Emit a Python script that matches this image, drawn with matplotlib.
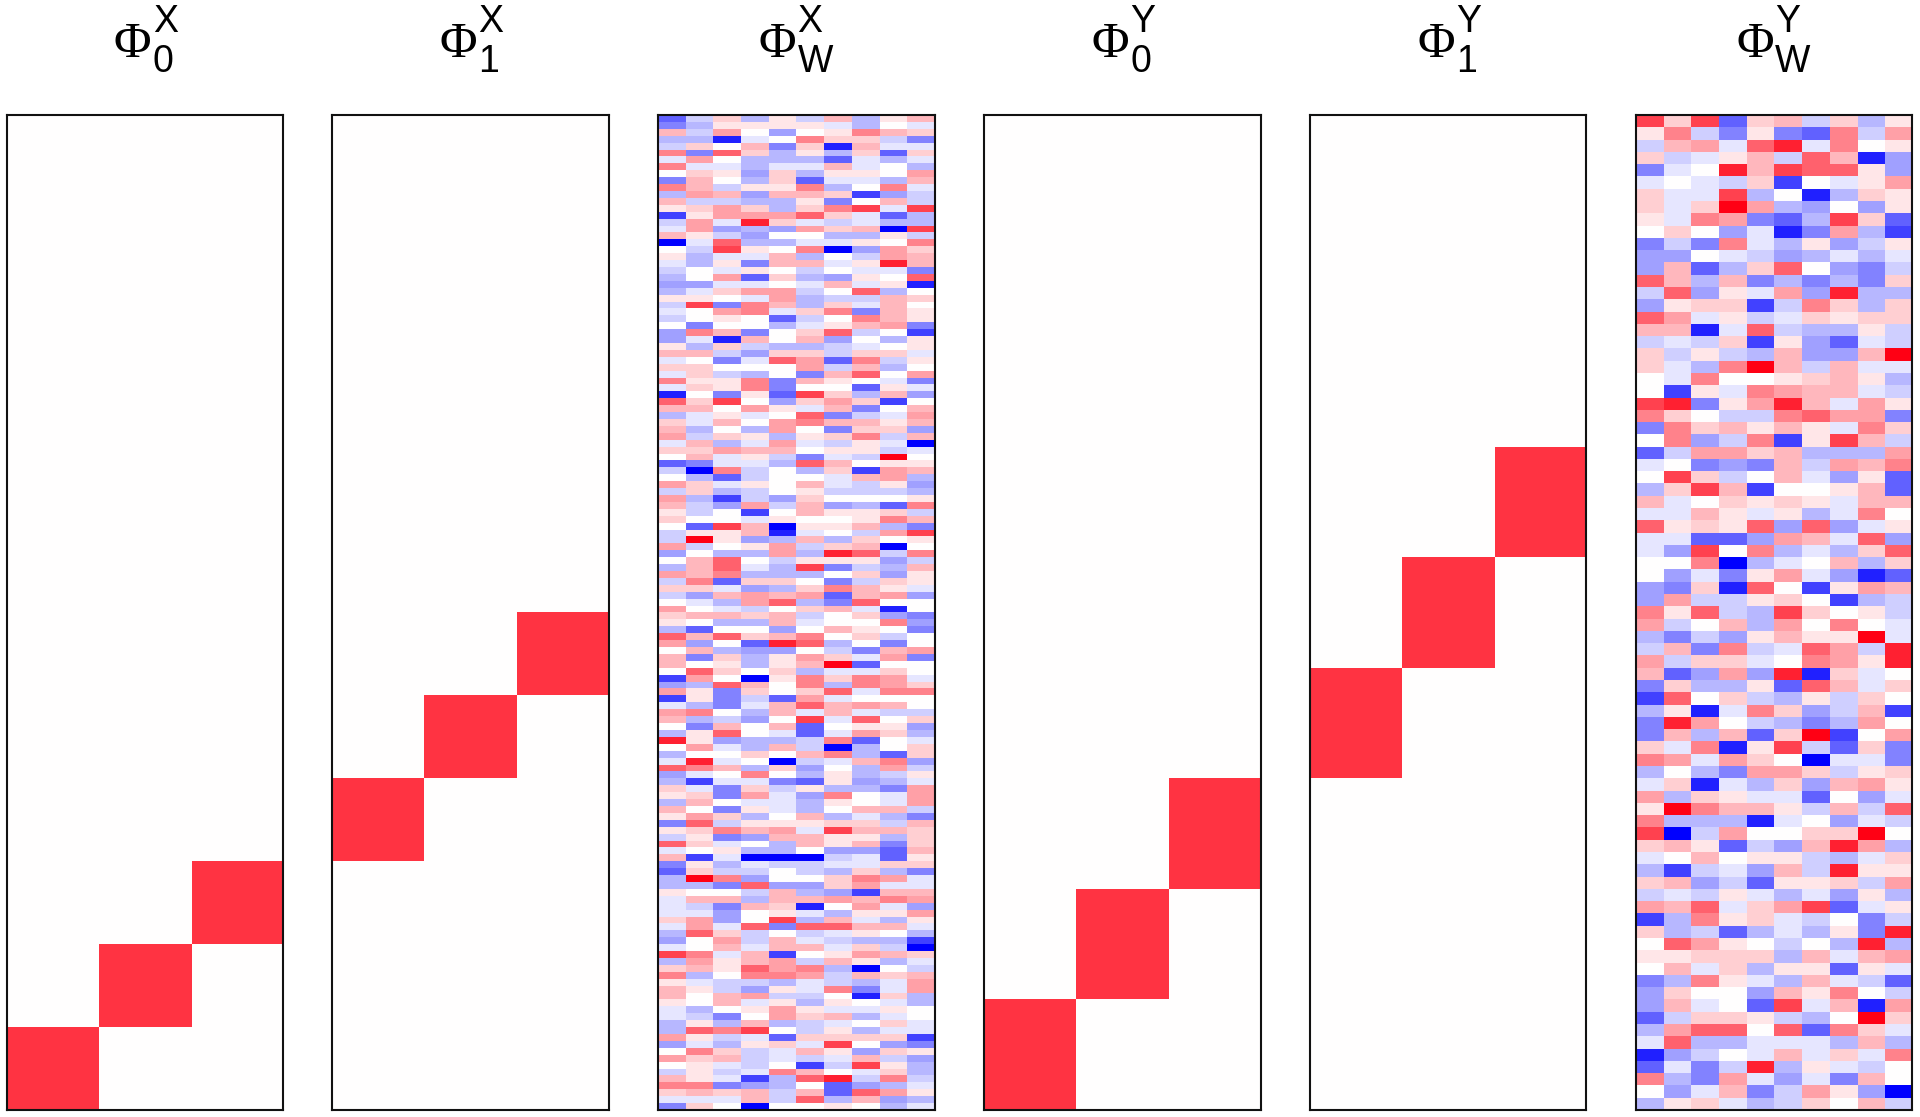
import matplotlib
matplotlib.use("Agg")
import matplotlib.pyplot as plt
from matplotlib.colors import LinearSegmentedColormap
import numpy as np

# weights, -9 = full blue, 9 = full red
phi_w_x = [
    [-6,-2,2,-3,1,-2,3,-3,1,3],
    [-5,-3,1,1,1,1,-1,-3,0,-1],
    [3,-2,4,0,-4,0,1,5,3,2],
    [-3,-3,-8,-1,0,5,2,2,-2,-5],
    [-2,2,0,3,-5,2,-8,3,-1,-1],
    [5,-5,6,2,-3,1,-3,2,-6,2],
    [-1,4,0,-3,-3,-3,-6,-1,-3,-1],
    [5,-1,-1,-3,-1,-1,3,-1,0,-3],
    [0,2,1,-4,2,-3,1,1,0,4],
    [-5,3,0,-3,2,-6,-1,-1,-3,3],
    [5,3,-2,1,1,5,-3,0,5,-1],
    [-3,4,3,-4,3,3,2,-7,-4,-2],
    [3,-2,-2,-3,-3,1,-5,0,3,-2],
    [1,2,4,2,-3,2,5,7,-1,7],
    [-7,1,4,4,4,6,2,-1,-6,-3],
    [-2,4,-1,8,2,-1,-2,-1,-3,-3],
    [-1,4,-4,-3,-4,4,2,3,-9,7],
    [3,1,-2,-4,0,0,-3,-3,1,-2],
    [-9,-1,6,-3,-3,-1,-1,1,0,5],
    [0,-2,7,1,0,5,-9,-4,4,2],
    [1,-3,-1,-1,3,-3,0,-2,4,3],
    [-1,-3,1,-5,3,3,-1,1,8,3],
    [-2,0,-1,1,0,-2,0,-1,-1,-5],
    [-3,0,4,-6,2,-3,-4,1,0,6],
    [-4,-4,-1,-1,0,-1,3,-1,1,-8],
    [-3,-1,2,4,4,-2,0,6,-3,0],
    [1,1,0,-1,4,-3,-2,-2,3,2],
    [-2,7,-5,5,3,-3,2,-1,3,0],
    [-1,0,4,5,-1,2,5,-5,3,1],
    [-2,0,1,0,-6,-2,0,5,3,1],
    [0,-5,0,0,-3,-1,1,3,4,-5],
    [-4,5,3,-5,0,2,6,-2,0,-7],
    [-4,-1,-8,3,0,3,-4,0,-3,1],
    [1,-3,2,-2,-3,-3,-2,-1,0,1],
    [3,3,-2,-4,2,2,-2,2,2,-1],
    [-1,0,-5,-1,6,4,-6,5,-2,1],
    [2,2,0,0,0,4,-2,3,-3,0],
    [-1,2,-2,-3,0,-5,3,6,0,4],
    [5,1,1,5,-5,3,1,0,-1,-5],
    [-1,2,1,5,-5,0,0,-6,1,-1],
    [-8,0,-5,1,-6,7,2,-3,3,-4],
    [6,2,7,0,-4,2,4,2,-7,0],
    [3,3,0,4,1,-1,3,-5,0,3],
    [-3,-1,1,-1,0,6,-5,-2,-1,4],
    [2,-1,3,0,4,5,3,3,1,3],
    [3,-3,0,-3,4,0,-5,2,2,-4],
    [4,-2,2,1,-3,1,2,5,-2,3],
    [-1,3,-3,-1,4,-1,-2,1,-1,-9],
    [2,2,4,3,3,0,1,1,-2,-1],
    [0,3,-1,1,-2,-5,-1,-2,9,0],
    [-6,-5,-1,-1,-3,6,3,0,1,1],
    [-2,-9,5,-2,0,-3,2,-7,4,3],
    [0,-3,-6,-2,0,0,-1,3,4,-3],
    [4,2,-1,1,0,3,-1,-2,1,-4],
    [-2,2,-3,-2,0,1,-2,-2,-2,-3],
    [4,-3,-7,-2,-4,2,0,0,0,1],
    [3,-2,-4,4,-2,3,-4,-3,-6,5],
    [1,-2,0,-7,0,3,1,1,2,-2],
    [2,0,0,-1,1,0,0,1,5,3],
    [0,-6,7,3,-9,1,1,3,-3,-5],
    [-2,1,1,3,-8,-1,0,-2,4,7],
    [-2,9,1,-4,-3,3,-3,2,0,1],
    [4,-2,0,1,4,-2,2,3,-9,0],
    [-4,0,-3,-3,4,-3,8,6,-2,5],
    [0,3,6,0,-2,1,1,1,-4,-2],
    [-3,3,6,-1,-3,7,-5,-2,-3,3],
    [4,3,5,-3,-3,-3,0,2,-4,1],
    [-2,5,-6,2,2,0,-5,-2,2,1],
    [2,2,-1,-4,-3,2,5,3,1,-1],
    [-2,-4,3,4,3,4,-6,3,4,-4],
    [0,-1,-3,4,6,-3,-5,6,0,0],
    [4,0,-1,-2,0,2,3,-1,-8,0],
    [2,3,3,2,3,-2,0,2,-4,-5],
    [1,0,-3,-3,3,-1,0,0,5,-4],
    [-3,-6,0,0,-4,0,3,1,0,-5],
    [6,3,6,2,3,5,0,2,-2,0],
    [4,-4,0,-6,8,6,-3,0,-5,0],
    [0,3,-3,-4,-4,0,-2,-5,3,4],
    [3,-5,2,-3,1,4,2,-1,4,-5],
    [3,0,1,-3,1,3,9,-6,0,0],
    [0,6,2,0,2,-3,-1,-1,2,0],
    [-7,4,0,-9,1,5,2,5,4,-1],
    [-4,-3,6,3,0,5,-3,5,4,2],
    [4,1,-5,2,0,2,6,-1,5,5],
    [-7,1,-5,-2,-6,4,-1,0,0,0],
    [-1,-3,-5,-1,3,6,3,4,3,0],
    [4,5,0,-3,3,-1,3,-1,-2,-2],
    [3,-3,-2,-4,0,7,-1,6,0,2],
    [0,-5,3,0,3,-6,0,1,1,-4],
    [-3,1,6,0,-1,-6,-1,4,2,-3],
    [8,1,-4,-3,-3,-2,5,-6,0,-1],
    [0,4,-1,-3,3,-2,-9,-3,0,2],
    [-3,0,0,2,0,3,5,-3,-6,2],
    [-1,8,-1,0,-9,-2,-1,3,5,-4],
    [6,5,3,-3,2,-4,0,-3,4,-2],
    [-4,-1,0,5,0,-3,1,-3,-2,1],
    [-3,-7,-1,-1,-5,-6,1,-4,-3,-1],
    [2,-1,-5,2,-2,1,-3,-3,-5,4],
    [1,2,-5,4,-1,-4,5,0,-1,4],
    [-3,3,0,-1,-1,-3,1,0,-1,4],
    [3,0,-5,1,-1,-3,0,3,3,-2],
    [1,4,2,-3,0,3,-3,-1,-3,-5],
    [-5,6,-2,1,1,1,2,2,-2,3],
    [1,2,5,3,4,-1,7,3,3,2],
    [-2,1,-5,-4,3,3,1,1,-3,2],
    [6,2,-1,0,-3,3,1,3,-5,2],
    [-1,0,1,-3,-3,0,-4,-4,-6,3],
    [3,-7,-1,-9,-9,-9,-2,-1,-6,1],
    [-5,1,-3,-1,-2,-2,-1,-1,2,2],
    [-6,2,-2,-2,0,-2,-3,2,-3,-5],
    [-3,9,5,-4,0,0,2,5,4,-1],
    [-3,-3,-5,6,-4,-4,2,4,-1,-1],
    [1,0,0,-2,3,-3,-4,-7,3,3],
    [-1,3,3,-3,3,3,4,3,5,4],
    [-1,-2,-5,3,2,-8,0,4,-1,-4],
    [-1,-1,-4,0,1,-1,-3,1,1,4],
    [2,4,-4,0,7,-3,3,-1,-3,1],
    [-1,4,-1,6,-5,6,6,3,3,-1],
    [-3,6,2,-2,0,-2,-1,1,0,-3],
    [-4,0,4,-2,3,-1,-2,-3,-3,-7],
    [-1,0,3,-1,3,3,-1,2,-2,-9],
    [7,5,-1,3,-7,0,1,4,3,2],
    [-3,4,1,3,4,-2,3,1,-3,-1],
    [2,3,1,6,4,5,-3,-9,0,-2],
    [5,-3,0,5,5,4,-2,3,2,3],
    [1,-1,-2,-2,-3,-1,-2,-3,-1,4],
    [3,1,-2,-4,1,-1,5,-5,-1,4],
    [3,0,3,4,-2,-2,0,-8,2,-3],
    [1,0,3,-1,1,-3,1,0,-1,-3],
    [-1,-3,0,1,4,1,-1,-1,1,0],
    [-1,-2,-5,0,4,2,3,-3,-1,0],
    [-3,1,-3,3,-3,-2,-1,0,2,-1],
    [-3,6,5,7,0,-2,1,-3,-1,-1],
    [4,1,-2,-1,-6,2,2,2,2,-7],
    [-4,-1,-3,1,2,-1,7,0,-4,-5],
    [0,5,2,-2,-1,3,1,-4,2,1],
    [4,2,3,-2,-1,-2,-1,3,-2,-4],
    [0,1,-1,-2,0,-7,-2,7,1,-3],
    [-2,1,-2,-1,5,3,0,-1,2,-3],
    [3,1,-1,-7,-3,6,8,-2,5,-2],
    [5,5,-5,-4,-3,0,-6,-4,-3,-1],
    [2,3,2,3,-2,3,-6,6,4,1],
    [-1,-1,-1,3,-2,6,-3,3,-4,-3],
    [-5,2,0,-9,0,0,1,0,-3,-1],
]

phi_w_y = [
    [7,2,7,-6,2,3,-2,2,-3,1],
    [1,5,-2,-5,1,-5,-6,5,-2,4],
    [-2,3,4,-1,6,8,-1,5,0,1],
    [2,-2,-1,1,3,-2,6,3,-8,-4],
    [-5,-1,0,8,3,7,6,6,1,-4],
    [-1,0,-1,-2,2,-7,0,-1,1,4],
    [2,-1,-1,7,-3,0,-8,-3,2,1],
    [2,-1,2,9,4,-3,-4,0,-4,1],
    [1,-1,5,4,-5,-6,-3,7,2,-6],
    [0,2,0,-4,-1,-8,-5,4,-3,-7],
    [-5,-2,-5,5,-1,-3,1,-4,-2,1],
    [-4,-4,0,-1,-2,-4,-3,-1,-3,-1],
    [-4,3,-6,-3,2,6,0,-4,-5,-2],
    [6,3,-3,3,-5,-3,-5,-3,-5,2],
    [-2,6,-4,1,-1,4,-4,8,-3,-3],
    [-4,1,2,2,-7,-2,5,2,-3,2],
    [6,4,-1,1,-2,-1,2,1,2,2],
    [3,3,-8,-1,6,-2,-3,-3,1,-2],
    [-2,-1,-2,2,-7,1,-4,-6,-1,-2],
    [2,-2,1,-2,-3,3,-4,-4,3,9],
    [2,-1,-3,5,9,3,-2,3,-1,-1],
    [0,-1,5,0,0,1,2,3,1,-3],
    [0,-7,1,-1,5,4,3,3,-1,-2],
    [7,8,-5,1,4,8,3,-1,4,1],
    [5,2,0,-2,-2,5,6,4,4,-5],
    [-5,5,2,3,1,3,1,-1,5,2],
    [0,5,-4,-2,5,-7,1,7,3,-2],
    [-6,-2,4,4,2,3,-3,-3,-3,4],
    [-1,0,-5,-4,-5,3,-2,4,3,5],
    [0,7,2,-2,0,3,-1,-4,1,-6],
    [-3,2,7,3,-7,0,0,1,3,-6],
    [3,-1,0,2,1,2,1,-1,3,3],
    [-1,-1,3,1,-1,1,-3,-1,5,0],
    [6,1,2,1,6,-4,6,-4,-1,1],
    [-1,-1,-6,-6,-4,4,3,-1,6,-4],
    [-1,-4,7,0,5,-3,-1,-3,2,6],
    [0,0,5,-9,-3,-1,0,3,-3,2],
    [0,-4,-1,-5,1,4,-1,-4,-8,-6],
    [-4,-5,2,-8,6,0,-7,1,4,3],
    [-4,4,-2,-2,1,2,0,-7,-3,-2],
    [5,1,6,-2,-3,7,2,0,1,-2],
    [4,-2,0,3,-3,4,0,5,0,-1],
    [-3,-5,-2,-4,1,3,1,1,9,-1],
    [-2,3,-5,5,-2,-1,6,4,-2,8],
    [4,-2,2,2,-1,0,5,4,1,8],
    [3,-6,-4,4,-4,8,-8,2,-1,0],
    [-5,2,-3,-3,1,-6,6,3,-1,2],
    [-7,6,0,2,-2,-3,1,-2,2,0],
    [-3,1,-8,-1,5,2,-4,-2,3,-7],
    [-5,8,4,0,-2,-3,-5,-3,4,0],
    [-5,3,-3,3,-6,2,9,-7,0,4],
    [2,-1,5,-8,1,7,-2,-6,2,-5],
    [5,4,-1,4,2,0,-9,-1,-1,-5],
    [-3,0,-3,-5,4,4,2,-2,1,2],
    [-1,2,-8,-1,-3,2,-4,3,4,1],
    [4,-3,2,1,-1,-1,-6,0,-4,-1],
    [1,9,5,3,3,1,-2,3,-2,6],
    [5,-3,-3,-3,-8,-1,0,-4,-1,-2],
    [7,-9,-2,4,0,0,2,2,9,0],
    [2,3,1,-6,-2,-4,3,8,4,-3],
    [-1,0,3,0,1,1,-2,-3,-1,2],
    [-3,-7,-2,-1,-4,3,-2,8,1,1],
    [2,3,-4,-2,-6,1,1,2,-2,4],
    [-2,-1,-2,1,-1,-3,-1,-4,1,-3],
    [4,3,6,-1,2,4,7,-6,-1,1],
    [-7,-3,5,1,2,-1,-2,0,-5,-2],
    [2,-3,-2,-6,-3,-1,-3,1,-5,8],
    [0,6,4,1,0,-2,0,-3,8,-3],
    [1,1,2,2,2,-3,3,-1,3,4],
    [0,3,-1,2,-3,1,1,-6,1,-1],
    [-5,-3,5,1,-1,-3,3,-1,-2,-6],
    [-4,2,0,0,-4,3,1,5,0,-2],
    [-4,3,-1,0,-6,7,-1,3,-8,4],
    [-6,-2,2,2,1,-2,-3,0,9,2],
    [-3,4,6,6,0,6,-6,5,2,-1],
    [-1,6,-3,-3,-1,-1,-1,-3,3,-3],
    [-8,-4,-2,0,-1,3,-1,2,-1,5],
    [-6,-1,-5,-2,8,-3,1,-1,-2,0],
    [5,-3,-5,4,-1,-4,-1,-5,3,0],
    [0,-4,-1,3,-5,-2,4,1,-4,-9],
    [-3,1,2,-1,-3,-2,2,0,3,-2],
]

title_sups = ['X', 'X', 'X', 'Y', 'Y', 'Y']
title_subs = ['0', '1', 'W', '0', '1', 'W']

# block panels: rows counted up from the bottom
rows_x, rows_per_block_x = 144, 12
rows_y, rows_per_block_y = 81, 9
first_block = [0, 3]
block_value = 7.4


def blocks(n_rows, per_block, start):
    m = np.zeros((n_rows, 3))
    for col in range(3):
        bottom = (start + col) * per_block
        m[n_rows - bottom - per_block:n_rows - bottom, col] = block_value
    return m


panels = [
    blocks(rows_x, rows_per_block_x, first_block[0]),
    blocks(rows_x, rows_per_block_x, first_block[1]),
    np.array(phi_w_x),
    blocks(rows_y, rows_per_block_y, first_block[0]),
    blocks(rows_y, rows_per_block_y, first_block[1]),
    np.array(phi_w_y),
]

cmap = LinearSegmentedColormap.from_list('bwr2', ['#0000ff', '#9494ff', '#ffffff', '#ff949c', '#ff0014'])

W, H = 1920, 1117
fig = plt.figure(figsize=(W / 100, H / 100), dpi=100)
left0, pitch, width = 6.5, 325.9, 276.4
top, bottom = 115, 1110

for i in range(6):
    left = left0 + i * pitch
    ax = fig.add_axes([left / W, 1 - bottom / H, width / W, (bottom - top) / H])
    ax.imshow(panels[i], cmap=cmap, vmin=-9, vmax=9, aspect='auto', interpolation='nearest')
    ax.set_xticks([])
    ax.set_yticks([])
    for s in ax.spines.values():
        s.set_linewidth(1.5)
        s.set_color('#111111')

    # symbol, superscript and subscript are separate texts to get the sans scripts
    mid = left + width / 2
    x0 = mid - (38 if title_subs[i] == 'W' else 31)
    fig.text(x0 / W, 1 - 57 / H, '\u03a6', fontsize=37, family='Liberation Serif', ha='left', va='baseline')
    fig.text((x0 + 39) / W, 1 - 32 / H, title_sups[i], fontsize=27, family='Liberation Sans', ha='left', va='baseline')
    fig.text((x0 + 39) / W, 1 - 72 / H, title_subs[i], fontsize=27, family='Liberation Sans', ha='left', va='baseline')

fig.savefig('out.png', dpi=100)
